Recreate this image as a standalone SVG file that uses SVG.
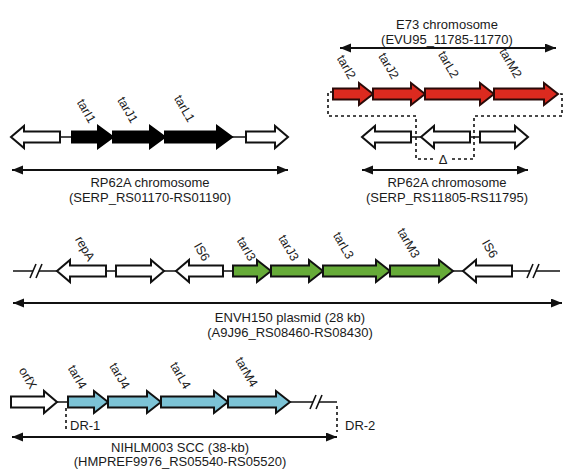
<svg xmlns="http://www.w3.org/2000/svg" width="576" height="469" viewBox="0 0 576 469">
<style>
.t{font-family:"Liberation Sans",Arial,sans-serif;font-size:13px;fill:#1a1a1a;text-anchor:middle}
.g{font-family:"Liberation Sans",Arial,sans-serif;font-size:12.5px;fill:#1a1a1a;text-anchor:end}
.dr{font-family:"Liberation Sans",Arial,sans-serif;font-size:13px;fill:#1a1a1a}
.ln{stroke:#111;stroke-width:1.6;fill:none}
.da{stroke:#111;stroke-width:2;fill:none;marker-start:url(#ah);marker-end:url(#ah)}
.dot{stroke:#111;stroke-width:1.6;fill:none;stroke-dasharray:3 3}
.w{fill:#fff;stroke:#111;stroke-width:2;stroke-linejoin:miter}
.k{fill:#000;stroke:#000;stroke-width:2}
.r{fill:#dc2a1f;stroke:#2a0a08;stroke-width:2}
.gr{fill:#66ab38;stroke:#111;stroke-width:2}
.c{fill:#7cc3d6;stroke:#111;stroke-width:2}
</style>
<defs>
<marker id="ah" markerUnits="userSpaceOnUse" markerWidth="12" markerHeight="10" refX="11" refY="4.5" orient="auto-start-reverse">
<path d="M0,0 L11,4.5 L0,9 Z" fill="#111"/>
</marker>
</defs>

<g id="connectors">
<line class="ln" x1="60" y1="137" x2="246" y2="137"/>
<line class="da" x1="12" y1="170" x2="288" y2="170"/>
<line class="da" x1="340" y1="48" x2="556" y2="48"/>
<path class="dot" d="M333,92 H328 V116 H416 V159 H434 M452,159 H474 V116 H562 V94 H558"/>
<line class="ln" x1="411" y1="137" x2="480" y2="137"/>
<line class="da" x1="362" y1="170" x2="528" y2="170"/>
<line class="ln" x1="13" y1="271" x2="560" y2="271"/>
<rect x="33" y="266" width="6" height="10" fill="#fff"/>
<path class="ln" d="M30,278 L36,264 M36,278 L42,264"/>
<rect x="530" y="266" width="6" height="10" fill="#fff"/>
<path class="ln" d="M527,278 L533,264 M533,278 L539,264"/>
<line class="da" x1="13" y1="303" x2="562" y2="303"/>
<line class="ln" x1="57" y1="402" x2="337" y2="402"/>
<rect x="313" y="397" width="6" height="10" fill="#fff"/>
<path class="ln" d="M310,409 L316,395 M316,409 L322,395"/>
<path class="dot" d="M66,408 V432 M337,406 V432"/>
<line class="da" x1="12" y1="437" x2="337" y2="437"/>
</g>

<g id="row1">
<path class="w" d="M60,131.5 H24 V126 L11,137 L24,148 V142.5 H60 Z"/>
<g id="tarI1"><path class="k" d="M72,131.5 H98 V126 L113,137 L98,148 V142.5 H72 Z"/><text class="g" transform="translate(89,124) rotate(60)">tarI1</text></g>
<g id="tarJ1"><path class="k" d="M113,131.5 H150 V126 L165,137 L150,148 V142.5 H113 Z"/><text class="g" transform="translate(131,124) rotate(60)">tarJ1</text></g>
<g id="tarL1"><path class="k" d="M165,131.5 H217 V126 L232,137 L217,148 V142.5 H165 Z"/><text class="g" transform="translate(188,123) rotate(60)">tarL1</text></g>
<path class="w" d="M246,131.5 H275 V126 L288,137 L275,148 V142.5 H246 Z"/>
<text class="t" x="150" y="187">RP62A chromosome</text>
<text class="t" x="150" y="202">(SERP_RS01170-RS01190)</text>
</g>

<g id="row2">
<text class="t" x="447" y="29">E73 chromosome</text>
<text class="t" x="447" y="44">(EVU95_11785-11770)</text>
<g id="tarI2"><path class="r" d="M333,88.5 H359 V83 L373,94 L359,105 V99.5 H333 Z"/><text class="g" transform="translate(349,80) rotate(60)">tarI2</text></g>
<g id="tarJ2"><path class="r" d="M373,88.5 H411 V83 L425,94 L411,105 V99.5 H373 Z"/><text class="g" transform="translate(392,80) rotate(60)">tarJ2</text></g>
<g id="tarL2"><path class="r" d="M425,88.5 H480 V83 L494,94 L480,105 V99.5 H425 Z"/><text class="g" transform="translate(452,79) rotate(60)">tarL2</text></g>
<g id="tarM2"><path class="r" d="M494,88.5 H544 V83 L558,94 L544,105 V99.5 H494 Z"/><text class="g" transform="translate(515,79) rotate(60)">tarM2</text></g>
<path class="w" d="M411,131.5 H375 V126 L362,137 L375,148 V142.5 H411 Z"/>
<path class="w" d="M470,131.5 H434 V126 L421,137 L434,148 V142.5 H470 Z"/>
<path class="w" d="M480,131.5 H515 V126 L528,137 L515,148 V142.5 H480 Z"/>
<text class="t" x="443" y="164">Δ</text>
<text class="t" x="447" y="187">RP62A chromosome</text>
<text class="t" x="447" y="202">(SERP_RS11805-RS11795)</text>
</g>

<g id="row3">
<g id="repA"><path class="w" d="M106,265.5 H70 V260 L57,271 L70,282 V276.5 H106 Z"/><text class="g" transform="translate(88,262) rotate(60)">repA</text></g>
<path class="w" d="M116,265.5 H151 V260 L164,271 L151,282 V276.5 H116 Z"/>
<g id="IS6a"><path class="w" d="M223,265.5 H189 V260 L176,271 L189,282 V276.5 H223 Z"/><text class="g" transform="translate(203,262) rotate(60)">IS6</text></g>
<g id="tarI3"><path class="gr" d="M233,265.5 H257 V260 L271,271 L257,282 V276.5 H233 Z"/><text class="g" transform="translate(249,262) rotate(60)">tarI3</text></g>
<g id="tarJ3"><path class="gr" d="M271,265.5 H309 V260 L323,271 L309,282 V276.5 H271 Z"/><text class="g" transform="translate(292,262) rotate(60)">tarJ3</text></g>
<g id="tarL3"><path class="gr" d="M323,265.5 H376 V260 L390,271 L376,282 V276.5 H323 Z"/><text class="g" transform="translate(347,260) rotate(60)">tarL3</text></g>
<g id="tarM3"><path class="gr" d="M390,265.5 H439 V260 L453,271 L439,282 V276.5 H390 Z"/><text class="g" transform="translate(413,259) rotate(60)">tarM3</text></g>
<g id="IS6b"><path class="w" d="M512,265.5 H476 V260 L463,271 L476,282 V276.5 H512 Z"/><text class="g" transform="translate(491,259) rotate(60)">IS6</text></g>
<text class="t" x="290" y="322">ENVH150 plasmid (28 kb)</text>
<text class="t" x="290" y="337">(A9J96_RS08460-RS08430)</text>
</g>

<g id="row4">
<g id="orfX"><path class="w" d="M11,396.5 H44 V391 L57,402 L44,413 V407.5 H11 Z"/><text class="g" transform="translate(30,390) rotate(60)">orfX</text></g>
<g id="tarI4"><path class="c" d="M68,396.5 H94 V391 L108,402 L94,413 V407.5 H68 Z"/><text class="g" transform="translate(80,390) rotate(60)">tarI4</text></g>
<g id="tarJ4"><path class="c" d="M108,396.5 H147 V391 L161,402 L147,413 V407.5 H108 Z"/><text class="g" transform="translate(123,390) rotate(60)">tarJ4</text></g>
<g id="tarL4"><path class="c" d="M161,396.5 H214 V391 L228,402 L214,413 V407.5 H161 Z"/><text class="g" transform="translate(184,390) rotate(60)">tarL4</text></g>
<g id="tarM4"><path class="c" d="M228,396.5 H276 V391 L290,402 L276,413 V407.5 H228 Z"/><text class="g" transform="translate(251,388) rotate(60)">tarM4</text></g>
<text class="dr" x="70" y="430">DR-1</text>
<text class="dr" x="345" y="430">DR-2</text>
<text class="t" x="180" y="452">NIHLM003 SCC (38-kb)</text>
<text class="t" x="180" y="466">(HMPREF9976_RS05540-RS05520)</text>
</g>
</svg>
